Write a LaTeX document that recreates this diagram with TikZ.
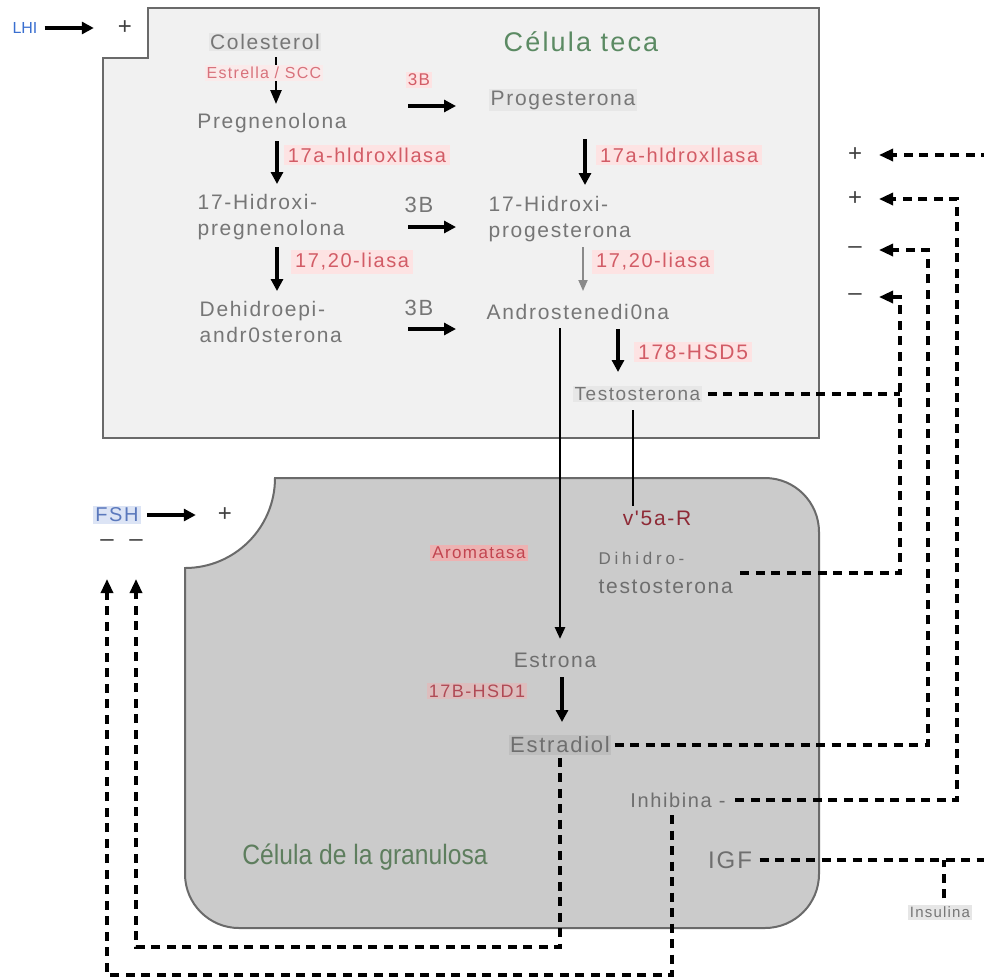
\documentclass[tikz,border=0pt]{standalone}
\usepackage{fontspec}
\setmainfont{Liberation Sans}
\newfontfamily\lbl[LetterSpace=8]{Liberation Sans}
\newfontfamily\lblw[LetterSpace=22]{Liberation Sans}
\newfontfamily\narrowf[FakeStretch=0.88]{Liberation Sans}
\usetikzlibrary{arrows.meta}
\definecolor{thecafill}{HTML}{F1F1F1}
\definecolor{granfill}{HTML}{CBCBCB}
\definecolor{boxline}{HTML}{6A6A6A}
\definecolor{txtgray}{HTML}{767676}
\definecolor{grantxt}{HTML}{6E6E6E}
\definecolor{tecagreen}{HTML}{5B8A63}
\definecolor{grangreen}{HTML}{5E7E5E}
\definecolor{enzred}{HTML}{D25C66}
\definecolor{enzbg}{HTML}{FDE3E3}
\definecolor{estred}{HTML}{D8727C}
\definecolor{estbg}{HTML}{FAEAEA}
\definecolor{darkred}{HTML}{8E2A36}
\definecolor{hsdred}{HTML}{B04A55}
\definecolor{hsdbg}{HTML}{DDBDBD}
\definecolor{arored}{HTML}{C24550}
\definecolor{arobg}{HTML}{EDB2B2}
\definecolor{lhblue}{HTML}{3A6FD0}
\definecolor{fshblue}{HTML}{5A78BC}
\definecolor{fshbg}{HTML}{DCE4F5}
\definecolor{hlteca}{HTML}{E7E7E7}
\definecolor{hlgran}{HTML}{BEBEBE}
\definecolor{insbg}{HTML}{E6E6E6}
\definecolor{arrgray}{HTML}{8A8A8A}
\begin{document}
\begin{tikzpicture}[x=1pt,y=-1pt,
  gt/.style={text=txtgray, font=\lbl\fontsize{21}{26}\selectfont, inner sep=1.5pt, align=left},
  gg/.style={text=grantxt, font=\lbl\fontsize{21}{26}\selectfont, inner sep=1.5pt, align=left},
  enz/.style={text=enzred, fill=enzbg, font=\lbl\fontsize{20}{24}\selectfont, inner xsep=4pt, inner ysep=3pt},
  arr/.style={line width=3.4pt, -{Triangle[length=12pt,width=12pt]}},
  fb/.style={line width=3.2pt, dash pattern=on 9pt off 6.5pt},
  fbarr/.style={fb, -{Triangle[length=14pt,width=12pt]}},
  sgn/.style={font=\fontsize{24}{24}\selectfont, text=black!75, inner sep=0pt},
]
\useasboundingbox (0,0) rectangle (984,978);
% cell boxes
\draw[draw=boxline, line width=2pt, fill=thecafill] (103,58) -- (148,58) -- (148,8) -- (819,8) -- (819,438) -- (103,438) -- cycle;
\draw[draw=boxline, line width=2pt, fill=granfill] (275,478) -- (765,478) .. controls (794.8,478) and (819,502.2) .. (819,532) -- (819,874) .. controls (819,903.8) and (794.8,928) .. (765,928) -- (239,928) .. controls (209.2,928) and (185,903.8) .. (185,874) -- (185,568) .. controls (234.7,568) and (275,527.7) .. (275,478) -- cycle;

% titles
\node[text=tecagreen, font=\lbl\fontsize{27}{30}\selectfont] (teca) at (581,42) {Célula teca};
\node[text=grangreen, font=\narrowf\fontsize{28}{30}\selectfont] (gran) at (365,857) {Célula de la granulosa};

% LH
\node[text=lhblue, font=\fontsize{16}{16}\selectfont, inner sep=1pt] (lh) at (25,28) {LHI};
\node[sgn] (lhp) at (125,28) {+};
\draw[arr, shorten <=6pt, shorten >=24pt] (lh.east) -- (lhp.west);

% theca pathway
\coordinate (c1) at (276,57);
\coordinate (c2) at (276,104);
\draw[line width=2.5pt, -{Triangle[length=14pt,width=11pt]}] (c1) -- (c2);
\node[gt, fill=hlteca] (col) at (265,42) {Colesterol};
\node[text=estred, fill=estbg, font=\lbl\fontsize{16}{18}\selectfont, inner sep=2pt] (estr) at (264,73) {Estrella / SCC};
\node[gt] (preg) at (272,123) {Pregnenolona};
\node[enz] (hyd1) at (367,155) {17a-hldroxllasa};
\node[enz, font=\lbl\fontsize{17}{20}\selectfont, inner sep=2pt] (tb1) at (419,80) {3B};
\node[gt, fill=hlteca] (prog) at (563,100) {Progesterona};
\node[enz, anchor=west] (hyd2) at (596,155) {17a-hldroxllasa};
\node[gt, anchor=west] (hpreg) at (196,217) {17-Hidroxi-\\pregnenolona};
\node[gt, font=\lbl\fontsize{22}{24}\selectfont] (tb2) at (419,205) {3B};
\node[gt, anchor=west] (hprog) at (487,219) {17-Hidroxi-\\progesterona};
\node[enz, anchor=west] (lia1) at (291,262) {17,20-liasa};
\node[enz, anchor=west] (lia2) at (592,262) {17,20-liasa};
\node[gt, anchor=west] (dhea) at (198,322) {Dehidroepi-\\andr0sterona};
\node[gt, font=\lbl\fontsize{22}{24}\selectfont] (tb3) at (419,308) {3B};
\node[gt, anchor=west] (andro) at (485,312) {Androstenedi0na};
\node[enz, anchor=west, font=\lbl\fontsize{21}{24}\selectfont] (hsd5) at (634,352) {178-HSD5};
\node[gt, anchor=west, fill=hlteca, font=\lbl\fontsize{19}{24}\selectfont] (testo) at (573,394) {Testosterona};

% pathway arrows
\coordinate (a1s) at (277,141); \coordinate (a1e) at (277,184);
\draw[arr] (a1s) -- (a1e);
\coordinate (a2s) at (408,106); \coordinate (a2e) at (456,106);
\draw[arr] (a2s) -- (a2e);
\coordinate (a3s) at (585,139); \coordinate (a3e) at (585,185);
\draw[arr] (a3s) -- (a3e);
\coordinate (a4s) at (408,227); \coordinate (a4e) at (456,227);
\draw[arr] (a4s) -- (a4e);
\coordinate (a5s) at (277,247); \coordinate (a5e) at (277,291);
\draw[arr] (a5s) -- (a5e);
\coordinate (a6s) at (583,247); \coordinate (a6e) at (583,291);
\draw[line width=1.8pt, draw=arrgray, -{Triangle[length=11pt,width=9pt]}] (a6s) -- (a6e);
\coordinate (a7s) at (408,329); \coordinate (a7e) at (456,329);
\draw[arr] (a7s) -- (a7e);
\coordinate (a8s) at (618,329); \coordinate (a8e) at (618,372);
\draw[arr] (a8s) -- (a8e);
\coordinate (a9s) at (560,328); \coordinate (a9e) at (560,639);
\draw[line width=2.6pt, -{Triangle[length=12pt,width=10pt]}] (a9s) -- (a9e);
\coordinate (a10s) at (633,410); \coordinate (a10e) at (633,506);
\draw[line width=2.6pt] (a10s) -- (a10e);
\coordinate (a11s) at (562,677); \coordinate (a11e) at (562,722);
\draw[arr] (a11s) -- (a11e);

% granulosa texts
\node[text=darkred, font=\lbl\fontsize{21}{24}\selectfont, inner sep=1pt] (vr) at (657,518) {v'5a-R};
\node[text=arored, fill=arobg, font=\lbl\fontsize{17}{20}\selectfont, inner sep=2pt] (aro) at (479,553) {Aromatasa};
\node[gg, anchor=west, font=\lbl\fontsize{21}{29}\selectfont] (dht) at (597,573) {{\lblw\fontsize{17}{29}\selectfont Dihidro-}\\testosterona};
\node[gg] (estrona) at (555,660) {Estrona};
\node[text=hsdred, fill=hsdbg, font=\lbl\fontsize{18}{20}\selectfont, inner sep=2pt] (hsd1) at (477,691) {17B-HSD1};
\node[gg, fill=hlgran, font=\lbl\fontsize{22}{24}\selectfont] (estradiol) at (560,745) {Estradiol};
\node[gg, font=\lbl\fontsize{20}{24}\selectfont] (inh) at (678,800) {Inhibina -};
\node[gg, font=\lbl\fontsize{24}{26}\selectfont] (igf) at (730,860) {IGF};
\node[gt, fill=insbg, font=\lbl\fontsize{15}{18}\selectfont, inner sep=2pt] (ins) at (940,912) {Insulina};

% FSH
\node[text=fshblue, fill=fshbg, font=\lbl\fontsize{20}{22}\selectfont, inner sep=2pt] (fsh) at (117,515) {FSH};
\node[sgn] (fshp) at (225,515) {+};
\draw[arr, shorten <=6pt, shorten >=22pt] (fsh.east) -- (fshp.west);
\node[sgn] (m1) at (107,543) {–};
\node[sgn] (m2) at (136,543) {–};

% right-hand signs
\node[sgn] (s1) at (855,155) {+};
\node[sgn] (s2) at (855,199) {+};
\node[sgn] (s3) at (855,250) {–};
\node[sgn] (s4) at (855,297) {–};
\coordinate (t1) at (879,155);
\coordinate (t2) at (879,199);
\coordinate (t3) at (879,250);
\coordinate (t4) at (879,297);
\coordinate (e1) at (990,155);
\coordinate (e2) at (990,860);
\coordinate (insj) at (944,860);

% feedback paths
\draw[fbarr] (e1) -- (t1);
\draw[fbarr, shorten <=8pt] (inh.east) -- (957,800) -- (957,199) -- (t2);
\draw[fbarr, shorten <=3pt] (estradiol.east) -- (928,745) -- (928,250) -- (t3);
\draw[fbarr, shorten <=6pt] (dht.east) -- (900,573) -- (900,297) -- (t4);
\draw[fb, shorten <=6pt] (testo.east) -- (900,394);
\draw[fb, shorten <=6pt] (igf.east) -- (e2);
\draw[fb, shorten <=6pt] (ins.north -| insj) -- (insj);
\draw[fbarr, shorten <=3pt] (estradiol.south) -- (560,947) -- (136,947) -- (136,579);
\coordinate (ib) at (672,815);
\draw[fbarr] (ib) -- (672,975) -- (107,975) -- (107,579);
\end{tikzpicture}
\end{document}
